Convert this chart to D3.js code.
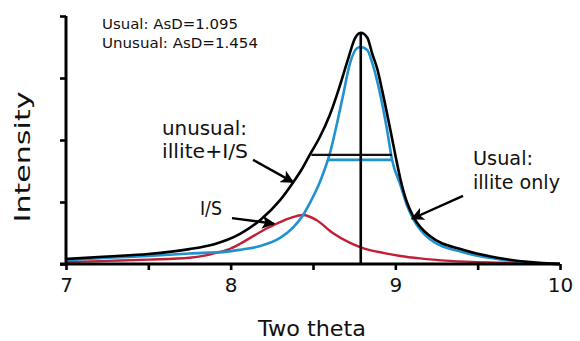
<!DOCTYPE html>
<html>
<head>
<meta charset="utf-8">
<script src="https://cdn.jsdelivr.net/npm/d3@7"></script>
<style>
  html, body { margin: 0; padding: 0; background: #fff; }
  svg { display: block; }
  text { font-family: "DejaVu Sans", sans-serif; fill: #111; }
</style>
</head>
<body>
<svg id="chart" width="580" height="341"></svg>
<script>
// ---- data ----
const xTicks = [7, 8, 9, 10];
const xMinorTicks = [7.5, 8.5, 9.5];
const yTicks = [0, 1, 2, 3, 4];

// unusual: illite + I/S (black)
const unusualCurve = [
  [7.00,0.08],[7.25,0.12],[7.50,0.16],[7.75,0.24],[7.90,0.32],[7.98,0.39],[8.06,0.49],[8.18,0.71],
  [8.30,1.03],[8.38,1.32],[8.43,1.52],[8.48,1.76],[8.54,2.04],[8.60,2.39],[8.66,2.85],
  [8.71,3.28],[8.755,3.64],[8.79,3.73],[8.83,3.65],[8.86,3.39],[8.89,3.15],[8.92,2.80],
  [8.97,2.16],[9.00,1.76],[9.03,1.38],[9.07,1.00],[9.11,0.76],[9.21,0.45],[9.41,0.23],[9.62,0.10],
  [9.82,0.03],[10.0,0.0]
];
// usual: illite only (blue)
const usualCurve = [
  [7.00,0.06],[7.25,0.10],[7.50,0.13],[7.75,0.17],[7.98,0.20],[8.06,0.23],[8.18,0.29],
  [8.30,0.42],[8.38,0.59],[8.44,0.79],[8.49,1.03],[8.54,1.31],[8.57,1.52],[8.60,1.76],
  [8.65,2.32],[8.68,2.69],[8.725,3.24],[8.767,3.48],[8.79,3.50],[8.83,3.45],[8.86,3.24],
  [8.95,2.16],[8.98,1.68],[9.03,1.28],[9.07,0.95],[9.11,0.72],[9.21,0.40],[9.41,0.19],[9.62,0.08],
  [9.82,0.02],[10.0,0.0]
];
// I/S component (red)
const isCurve = [
  [7.00,0.03],[7.25,0.05],[7.50,0.07],[7.75,0.10],[7.85,0.14],[7.93,0.19],[8.00,0.25],[8.06,0.33],
  [8.15,0.47],[8.24,0.60],[8.36,0.74],[8.44,0.79],[8.52,0.71],[8.62,0.50],[8.725,0.34],[8.79,0.27],
  [8.925,0.18],[9.03,0.13],[9.15,0.09],[9.33,0.05],[9.64,0.02],[10.0,0.0]
];
// peak position and half-maximum width lines
const peakLine = [[8.79, 0], [8.79, 3.73]];
const fwhmUnusual = [[8.49, 1.76], [8.98, 1.76]];
const fwhmUsual = [[8.59, 1.68], [8.98, 1.68]];
// arrows [from, to]
const arrowUnusual = [[8.136, 1.68], [8.379, 1.32]];
const arrowIS = [[8.008, 0.74], [8.263, 0.65]];
const arrowUsual = [[9.411, 1.10], [9.101, 0.73]];

const statsLines = ["Usual: AsD=1.095", "Unusual: AsD=1.454"];

// ---- drawing ----
const svg = d3.select("#chart");
const x = d3.scaleLinear().domain([7, 10]).range([66, 560]);
const y = d3.scaleLinear().domain([0, 4]).range([264, 16]);

const BLUE = "#1f92cf", RED = "#c11f35";

const line = d3.line().x(d => x(d[0])).y(d => y(d[1])).curve(d3.curveMonotoneX);
const straight = d3.line().x(d => x(d[0])).y(d => y(d[1]));

svg.append("path").datum(isCurve).attr("d", line)
  .attr("fill", "none").attr("stroke", RED).attr("stroke-width", 2.4);
svg.append("path").datum(usualCurve).attr("d", line)
  .attr("fill", "none").attr("stroke", BLUE).attr("stroke-width", 2.6);
svg.append("path").datum(unusualCurve).attr("d", line)
  .attr("fill", "none").attr("stroke", "#000").attr("stroke-width", 2.6);

svg.append("path").datum(fwhmUnusual).attr("d", straight)
  .attr("stroke", "#111").attr("stroke-width", 2.4);
svg.append("path").datum(fwhmUsual).attr("d", straight)
  .attr("stroke", BLUE).attr("stroke-width", 2.8);
svg.append("path").datum(peakLine).attr("d", straight)
  .attr("stroke", "#000").attr("stroke-width", 2.6);

// axes
const xAxis = d3.axisBottom(x).tickValues(xTicks).tickSize(6).tickPadding(8).tickFormat(d3.format("d"));
const gx = svg.append("g").attr("transform", `translate(0,${y(0)})`).call(xAxis);
gx.select(".domain").attr("stroke", "#000").attr("stroke-width", 3).attr("d", `M${x(7)-6},0H${x(10)}`);
gx.selectAll(".tick line").attr("stroke", "#000").attr("stroke-width", 2.6);
gx.selectAll(".tick text").attr("font-size", 20).attr("font-family", "DejaVu Sans").attr("fill", "#111");
const xMinor = d3.axisBottom(x).tickValues(xMinorTicks).tickSize(6).tickFormat("");
const gxm = svg.append("g").attr("transform", `translate(0,${y(0)})`).call(xMinor);
gxm.select(".domain").remove();
gxm.selectAll(".tick line").attr("stroke", "#000").attr("stroke-width", 2.6);

const yAxis = d3.axisLeft(y).tickValues(yTicks).tickSize(6).tickFormat("");
const gy = svg.append("g").attr("transform", `translate(${x(7)},0)`).call(yAxis);
gy.select(".domain").attr("stroke", "#000").attr("stroke-width", 3).attr("d", `M0,${y(4)}V${y(0)}`);
gy.selectAll(".tick line").attr("stroke", "#000").attr("stroke-width", 2.6);

// axis titles
svg.append("text").attr("x", 312).attr("y", 336).attr("text-anchor", "middle")
  .attr("font-size", 21).attr("textLength", 108).attr("lengthAdjust", "spacingAndGlyphs").text("Two theta");
svg.append("text").attr("transform", "translate(30,157) rotate(-90)").attr("text-anchor", "middle")
  .attr("font-size", 21).attr("textLength", 131).attr("lengthAdjust", "spacingAndGlyphs").text("Intensity");

// arrows
const defs = svg.append("defs");
defs.append("marker").attr("id", "ah").attr("viewBox", "0 0 10 10")
  .attr("refX", 9).attr("refY", 5).attr("markerWidth", 5.5).attr("markerHeight", 5.5)
  .attr("markerUnits", "strokeWidth").attr("orient", "auto")
  .append("path").attr("d", "M0,0L10,5L0,10L2.5,5Z").attr("fill", "#000");
[arrowUnusual, arrowIS, arrowUsual].forEach(a => {
  svg.append("path").datum(a).attr("d", straight)
    .attr("stroke", "#000").attr("stroke-width", 2.4).attr("marker-end", "url(#ah)");
});

// labels
function label(txt, px, py, size, len) {
  svg.append("text").attr("x", px).attr("y", py).attr("font-size", size)
    .attr("textLength", len).attr("lengthAdjust", "spacingAndGlyphs").text(txt);
}
label(statsLines[0], 102, 29, 13.5, 136);
label(statsLines[1], 102, 48, 13.5, 156);
label("unusual:", 162, 135, 20, 85);
label("illite+I/S", 162, 158, 20, 86);
label("I/S", 200, 215, 20, 22);
label("Usual:", 473, 165, 20, 60);
label("illite only", 473, 189, 20, 87);
</script>
</body>
</html>
